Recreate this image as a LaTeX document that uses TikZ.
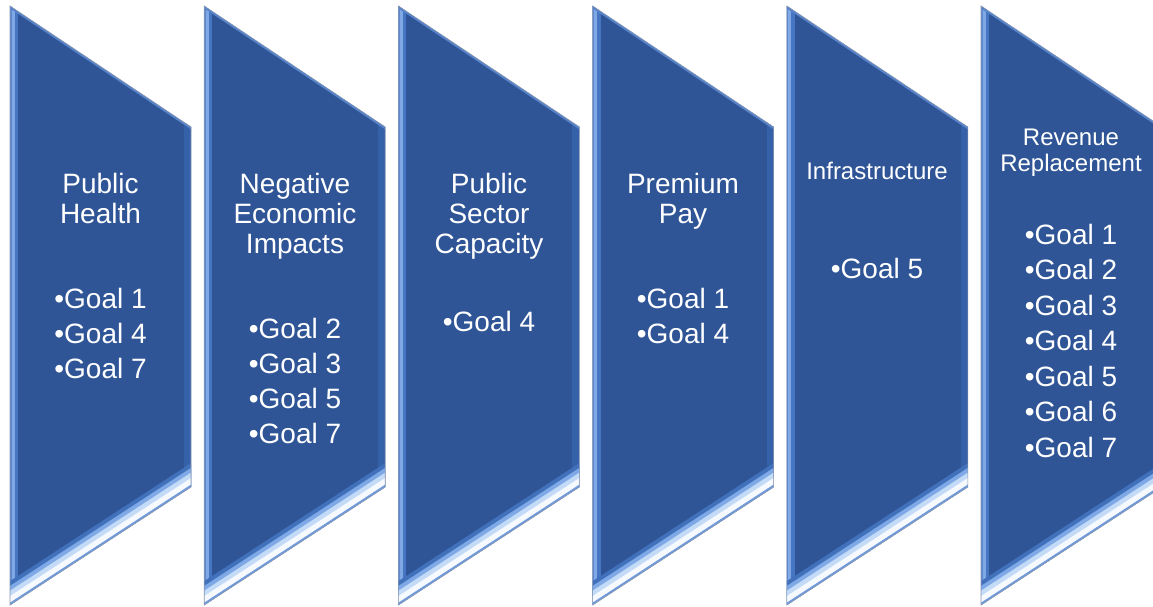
\documentclass[tikz,border=0pt]{standalone}
\usepackage{fontspec}
\setmainfont{Liberation Sans}
\definecolor{basec}{HTML}{2F5597}
\definecolor{rightc}{HTML}{3561A8}
\definecolor{leftA}{HTML}{4676C2}
\definecolor{leftB}{HTML}{7FA8E4}
\definecolor{leftC}{HTML}{5C88CF}
\definecolor{botA}{HTML}{4271BC}
\definecolor{botB}{HTML}{7FA9E6}
\definecolor{botC}{HTML}{C4DBF8}
\definecolor{botE}{HTML}{F6F9FE}
\definecolor{botD}{HTML}{6F9ADC}
\definecolor{topc}{HTML}{5683CA}
\definecolor{edgec}{HTML}{8A98B0}
\tikzset{
  lbl/.style={text=white, anchor=base, inner sep=0pt, font=\fontsize{28}{30}\selectfont},
  lbls/.style={lbl, font=\fontsize{24}{25}\selectfont},
  outline/.style={draw=edgec, line width=0.6pt, line join=miter}
}
\begin{document}
\begin{tikzpicture}[x=1pt,y=-1pt]
\useasboundingbox (0,0) rectangle (1153,607);
\clip (0,0) rectangle (1153,607);
\foreach \i in {0,...,5}{
  \pgfmathsetmacro\xl{10+194.2*\i}
  \pgfmathsetmacro\xr{\xl+181}
  \begin{scope}
    \clip (\xl,6) -- (\xr,127) -- (\xr,487) -- (\xl,605) -- cycle;
    \fill[basec] (\xl,0) rectangle (\xr,607);
    \draw[line width=14pt, rightc] (\xr,100) -- (\xr,500);
    \draw[line width=16pt, leftA] (\xl,0) -- (\xl,607);
    \draw[line width=9pt, leftB] (\xl,0) -- (\xl,607);
    \draw[line width=3pt, leftC] (\xl,0) -- (\xl,607);
    \draw[line width=40pt, botA] (\xr+30,467.4) -- (\xl-30,624.6);
    \draw[line width=32pt, botB] (\xr+30,467.4) -- (\xl-30,624.6);
    \draw[line width=24pt, botC] (\xr+30,467.4) -- (\xl-30,624.6);
    \draw[line width=15pt, botE] (\xr+30,467.4) -- (\xl-30,624.6);
    \draw[line width=4pt, botD] (\xr+30,467.4) -- (\xl-30,624.6);
    \draw[line width=4pt, topc] (\xl-10,-0.7) -- (\xr+10,133.7);
  \end{scope}
  \draw[outline] (\xl,6) -- (\xr,127) -- (\xr,487) -- (\xl,605) -- cycle;
}
% Shape 1
\node[lbl] (a1) at (100.5,193) {Public};
\node[lbl] (a2) at (100.5,223) {Health};
\node[lbl] (a3) at (100.5,308) {•Goal 1};
\node[lbl] (a4) at (100.5,343) {•Goal 4};
\node[lbl] (a5) at (100.5,378) {•Goal 7};
% Shape 2
\node[lbl] (b1) at (295,193) {Negative};
\node[lbl] (b2) at (295,223) {Economic};
\node[lbl] (b3) at (295,253) {Impacts};
\node[lbl] (b4) at (295,338) {•Goal 2};
\node[lbl] (b5) at (295,373) {•Goal 3};
\node[lbl] (b6) at (295,408) {•Goal 5};
\node[lbl] (b7) at (295,443) {•Goal 7};
% Shape 3
\node[lbl] (c1) at (489,193) {Public};
\node[lbl] (c2) at (489,223) {Sector};
\node[lbl] (c3) at (489,253) {Capacity};
\node[lbl] (c4) at (489,331) {•Goal 4};
% Shape 4
\node[lbl] (d1) at (683,193) {Premium};
\node[lbl] (d2) at (683,223) {Pay};
\node[lbl] (d3) at (683,308) {•Goal 1};
\node[lbl] (d4) at (683,343) {•Goal 4};
% Shape 5
\node[lbls] (e1) at (877,179) {Infrastructure};
\node[lbl] (e2) at (877,278) {•Goal 5};
% Shape 6
\node[lbls] (f1) at (1071,146) {Revenue};
\node[lbls] (f2) at (1071,171) {Replacement};
\node[lbl] (f3) at (1071,244) {•Goal 1};
\node[lbl] (f4) at (1071,279.5) {•Goal 2};
\node[lbl] (f5) at (1071,315) {•Goal 3};
\node[lbl] (f6) at (1071,350.5) {•Goal 4};
\node[lbl] (f7) at (1071,386) {•Goal 5};
\node[lbl] (f8) at (1071,421.5) {•Goal 6};
\node[lbl] (f9) at (1071,457) {•Goal 7};
\end{tikzpicture}
\end{document}
